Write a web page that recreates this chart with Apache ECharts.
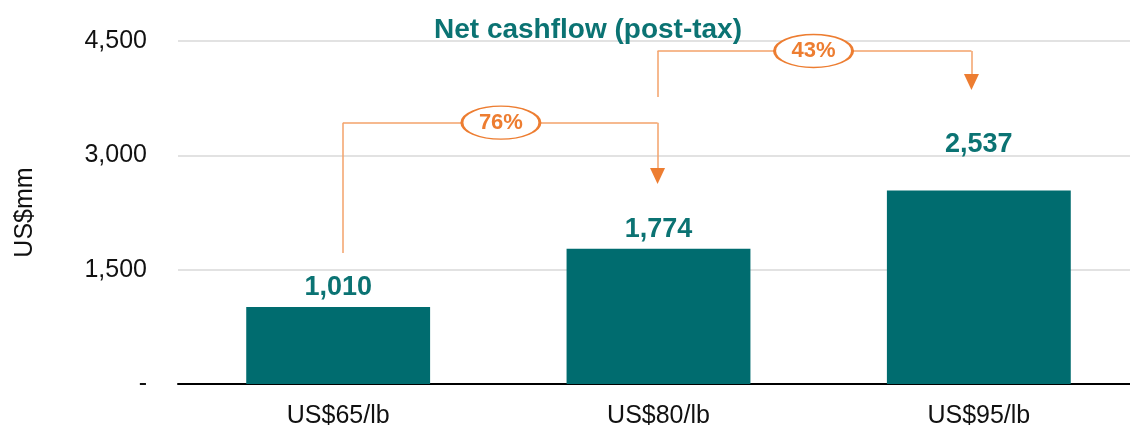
<!DOCTYPE html>
<html>
<head>
<meta charset="utf-8">
<title>Net cashflow</title>
<script src="https://cdn.jsdelivr.net/npm/echarts@6/dist/echarts.min.js"></script>
</head>
<body style="margin:0;padding:0;background:#fff">
<div id="main" style="width:1130px;height:429px;"></div>
<script type="text/javascript">
var chart = echarts.init(document.getElementById('main'));

// data
var categories = ['US$65/lb', 'US$80/lb', 'US$95/lb'];
var cashflow = [1010, 1774, 2537];
var yTicks = [0, 1500, 3000, 4500];
var labelGap = [6, 6, 33];

// growth brackets (x = category index, y = US$mm); last point = arrow head
var bracket76 = [[0.015, 1719], [0.015, 3428], [0.997, 3428], [0.997, 2729]];
var bracket43 = [[0.997, 3765], [0.997, 4369], [1.977, 4369], [1.977, 3962]];
var growthText = ['76%', '43%'];
var growthPos = [[0.508, 3428], [1.484, 4369]];

var teal = '#006C6F';
var tealText = '#0B7373';
var orange = '#ED7D31';
var orangeLine = '#F3A26A';
var font = '"Liberation Sans", Arial, sans-serif';

function bracketSegments(pts) {
    var segs = [];
    for (var i = 0; i < pts.length - 1; i++) {
        segs.push([{ coord: pts[i] }, { coord: pts[i + 1] }]);
    }
    return segs;
}

var ellipse = 'path://M0,50 A50,50 0 1 1 100,50 A50,50 0 1 1 0,50 Z';

var markers = growthPos.map(function (p, i) {
    return { coord: p, value: growthText[i], label: { formatter: growthText[i] } };
});
[bracket76, bracket43].forEach(function (b) {
    markers.push({
        coord: b[b.length - 1],
        symbol: 'triangle',
        symbolSize: [15, 16],
        symbolRotate: 180,
        itemStyle: { color: orange, borderWidth: 0 },
        label: { show: false }
    });
});

var option = {
    animation: false,
    backgroundColor: '#fff',
    textStyle: { fontFamily: font },
    title: {
        text: 'Net cashflow (post-tax)',
        left: 583,
        top: 11,
        textAlign: 'center',
        textStyle: { color: tealText, fontSize: 28, fontWeight: 'bold', fontFamily: font }
    },
    grid: { left: 178, top: 41, width: 961, height: 343, containLabel: false, outerBoundsMode: 'none' },
    xAxis: [{
        type: 'category',
        data: categories,
        axisTick: { show: false },
        axisLine: { lineStyle: { color: '#000', width: 2 } },
        axisLabel: { color: '#111', fontSize: 25, margin: 20, fontFamily: font }
    }, {
        type: 'value',
        min: -0.5,
        max: 2.5,
        show: false
    }],
    yAxis: {
        type: 'value',
        min: yTicks[0],
        max: yTicks[yTicks.length - 1],
        interval: yTicks[1] - yTicks[0],
        name: 'US$mm',
        nameLocation: 'middle',
        nameGap: 140,
        nameTextStyle: { color: '#111', fontSize: 25, fontFamily: font },
        axisLine: { show: false },
        axisTick: { show: false },
        axisLabel: {
            color: '#111',
            fontSize: 25,
            margin: 31,
            fontFamily: font,
            formatter: function (v) { return v === 0 ? '-' : v.toLocaleString('en-US'); }
        },
        splitLine: { lineStyle: { color: '#D9D9D9', width: 1.5 } }
    },
    series: [{
        type: 'bar',
        data: cashflow.map(function (v, i) {
            return { value: v, label: { distance: labelGap[i] } };
        }),
        barWidth: '57.4%',
        itemStyle: { color: teal },
        label: {
            show: true,
            position: 'top',
            color: tealText,
            fontSize: 27,
            fontWeight: 'bold',
            fontFamily: font,
            formatter: function (p) { return p.value.toLocaleString('en-US'); }
        }
    }, {
        type: 'scatter',
        xAxisIndex: 1,
        data: [],
        z: 5,
        markLine: {
            silent: true,
            animation: false,
            symbol: 'none',
            label: { show: false },
            lineStyle: { color: orangeLine, width: 1.5, type: 'solid' },
            emphasis: { disabled: true },
            data: bracketSegments(bracket76).concat(bracketSegments(bracket43))
        }
    }, {
        type: 'scatter',
        xAxisIndex: 1,
        data: [],
        z: 10,
        markPoint: {
            silent: true,
            animation: false,
            symbol: ellipse,
            symbolSize: [78, 33],
            itemStyle: { color: '#fff', borderColor: orange, borderWidth: 2 },
            label: {
                show: true,
                position: 'inside',
                color: orange,
                fontSize: 22,
                fontWeight: 'bold',
                fontFamily: font
            },
            data: markers
        }
    }]
};

chart.setOption(option);
</script>
</body>
</html>
